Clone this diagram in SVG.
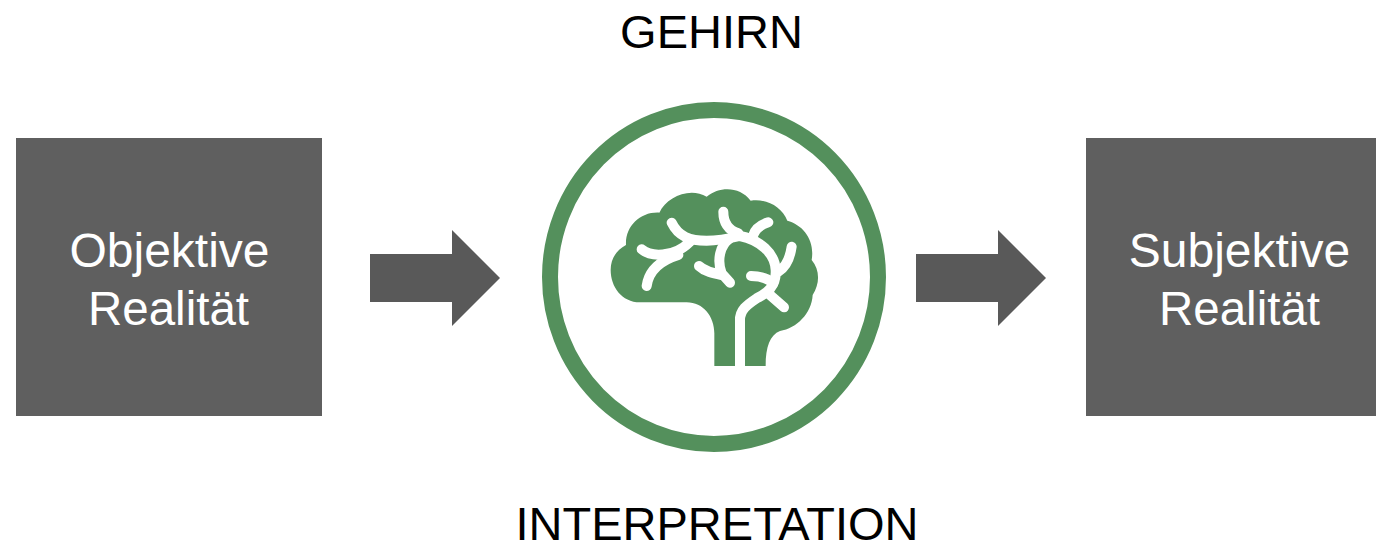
<svg xmlns="http://www.w3.org/2000/svg" width="1376" height="546" viewBox="0 0 1376 546">
<style>
.box{fill:#5f5f5f}
.arrow{fill:#595959}
.t{font-family:"Liberation Sans",Arial,sans-serif;font-size:47px;text-anchor:middle}
.l1{font-size:48px}
.l2{font-size:47.5px}
.w{fill:#fff}
.k{fill:#000}
.vein{fill:none;stroke:#fff;stroke-width:30;stroke-linecap:round;stroke-linejoin:round}
</style>
<rect width="1376" height="546" fill="#fff"/>
<g id="connectors">
<path class="arrow" d="M370 254H452V230L500 278L452 326V302H370Z"/>
<path class="arrow" d="M916 254H998V230L1046 278L998 326V302H916Z"/>
</g>
<g id="node-objektive">
<rect class="box" x="16" y="138" width="306" height="278"/>
<text class="t w l1" x="169.5" y="267">Objektive</text>
<text class="t w l2" x="168.5" y="325">Realität</text>
</g>
<g id="node-gehirn">
<text class="t k" x="711.5" y="48">GEHIRN</text>
<ellipse cx="714" cy="277" rx="164" ry="167" fill="#fff" stroke="#54905c" stroke-width="16"/>
<g id="brain" transform="translate(590 170) scale(.33333)">
<path fill="#54905c" d="M373 588V490C373 440 340 397 290 397H150C95 397 62 350 62 300C62 265 80 240 108 225C105 170 150 125 208 128C230 80 300 50 350 80C390 48 450 50 482 92C530 85 575 110 592 152C640 165 675 210 665 270C690 300 690 340 668 375C665 430 620 475 570 483C540 495 527 530 527 588Z"/>
<path class="vein" d="M245 158C265 200 300 212 350 212C390 212 420 205 450 198C510 210 555 250 557 300C560 350 530 370 500 385C470 405 450 420 450 450"/>
<path d="M450 440V590" fill="none" stroke="#fff" stroke-width="30"/>
<path class="vein" d="M400 125C400 160 415 180 445 190M535 157C510 165 495 180 490 195M155 238C180 260 250 265 300 215M170 348C175 310 200 275 265 255M420 205C390 225 380 270 395 310L420 338M327 288C345 305 370 310 395 315M605 230C600 265 590 290 565 305M483 318C510 318 530 322 550 340M540 375L582 412"/>
</g>
<text class="t k" x="717" y="540">INTERPRETATION</text>
</g>
<g id="node-subjektive">
<rect class="box" x="1086" y="138" width="290" height="278"/>
<text class="t w l1" x="1239.5" y="267">Subjektive</text>
<text class="t w l2" x="1239.5" y="325">Realität</text>
</g>
</svg>
